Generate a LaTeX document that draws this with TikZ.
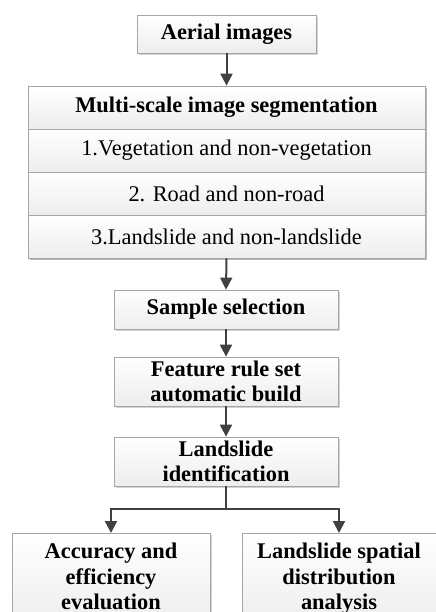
\documentclass[tikz,border=0pt]{standalone}
\usepackage{fontspec}
\setmainfont{Liberation Serif}
\usetikzlibrary{arrows.meta,shadows}

\begin{document}
\begin{tikzpicture}[x=0.75pt, y=-0.75pt,
    stepbox/.style={draw=gray!70, line width=0.6pt, rectangle, top color=white, bottom color=gray!14,
        drop shadow={shadow xshift=1.2pt, shadow yshift=-1.2pt, fill=gray, opacity=0.35},
        align=center, font=\fontsize{16.8}{19}\selectfont\bfseries, inner sep=1pt},
    rowbox/.style={stepbox, font=\fontsize{16.8}{19}\selectfont, drop shadow={opacity=0}},
    flow/.style={-{Triangle[length=9pt, width=9pt]}, line width=1.5pt, draw=black!75}
]

    % Fix the page size
    \useasboundingbox (0,0) rectangle (436,612);

    % Top input
    \node[stepbox, minimum width=134.25pt, minimum height=28.5pt] (aerial) at (226.5, 34) {Aerial images};

    % Segmentation block with its three levels
    \node[stepbox, minimum width=297.75pt, minimum height=129pt] (seg) at (226.5, 172) {};
    \node[rowbox, minimum width=297.75pt, minimum height=32.25pt, font=\fontsize{16.8}{19}\selectfont\bfseries] (seg_0) at (226.5, 107.5) {Multi-scale image segmentation};
    \node[rowbox, minimum width=297.75pt, minimum height=32.25pt] (seg_1) at (226.5, 150.5) {1.Vegetation and non-vegetation};
    \node[rowbox, minimum width=297.75pt, minimum height=32.25pt] (seg_2) at (226.5, 193.5) {2. Road and non-road};
    \node[rowbox, minimum width=297.75pt, minimum height=32.25pt] (seg_3) at (226.5, 236.5) {3.Landslide and non-landslide};
    % Arrow from input to segmentation
    \draw[flow] (aerial.south) -- (seg.north);

    % Middle steps
    \node[stepbox, minimum width=168pt, minimum height=29.25pt] (sample) at (226, 309.5) {Sample selection};
    \node[stepbox, minimum width=168pt, minimum height=36.75pt] (rules) at (226, 381.5) {Feature rule set\\automatic build};
    \node[stepbox, minimum width=168pt, minimum height=36.75pt] (ident) at (226, 461.5) {Landslide\\identification};
    % Arrows between the middle steps
    \draw[flow] (seg.south) -- (sample.north);
    \draw[flow] (sample.south) -- (rules.north);
    \draw[flow] (rules.south) -- (ident.north);

    % Two outputs at the bottom (cut by the page edge)
    \node[stepbox, minimum width=148.5pt, minimum height=70pt, anchor=north] (accuracy) at (111, 533) {Accuracy and\\efficiency\\evaluation\strut};
    \node[stepbox, minimum width=145.5pt, minimum height=70pt, anchor=north] (spatial) at (339, 533) {Landslide spatial\\distribution\\analysis\strut};
    % Branch from identification to both outputs
    \coordinate (split) at (226, 509);
    \draw[line width=1.5pt, draw=black!75] (ident.south) -- (split);
    \draw[flow] (split) -| (accuracy.north);
    \draw[flow] (split) -| (spatial.north);

\end{tikzpicture}
\end{document}
